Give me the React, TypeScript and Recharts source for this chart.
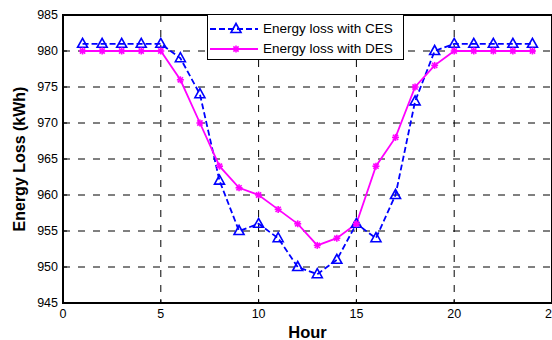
import React from 'react'
import {
  LineChart, Line, XAxis, YAxis, CartesianGrid, Legend, ReferenceArea,
} from 'recharts'

const hours = [1, 2, 3, 4, 5, 6, 7, 8, 9, 10, 11, 12, 13, 14, 15, 16, 17, 18, 19, 20, 21, 22, 23, 24]
const cesLoss = [981, 981, 981, 981, 981, 979, 974, 962, 955, 956, 954, 950, 949, 951, 956, 954, 960, 973, 980, 981, 981, 981, 981, 981]
const desLoss = [980, 980, 980, 980, 980, 976, 970, 964, 961, 960, 958, 956, 953, 954, 956, 964, 968, 975, 978, 980, 980, 980, 980, 980]
const xTicks = [0, 5, 10, 15, 20, 25]
const yTicks = [945, 950, 955, 960, 965, 970, 975, 980, 985]

const data = hours.map((h, i) => ({ hour: h, ces: cesLoss[i], des: desLoss[i] }))

const FONT = '"Liberation Sans", Arial, Helvetica, sans-serif'
const BLUE = '#0000ff'
const MAGENTA = '#ff00ff'

function Triangle({ cx, cy }: any) {
  if (cx == null || cy == null) return null
  return (
    <polygon
      points={`${cx},${cy - 5.5} ${cx - 5},${cy + 3.5} ${cx + 5},${cy + 3.5}`}
      fill="none" stroke={BLUE} strokeWidth={1.6}
    />
  )
}

function Star({ cx, cy }: any) {
  if (cx == null || cy == null) return null
  const r = 3.5, d = 2.6
  return (
    <g stroke={MAGENTA} strokeWidth={1.6}>
      <line x1={cx - r} y1={cy} x2={cx + r} y2={cy} />
      <line x1={cx} y1={cy - r} x2={cx} y2={cy + r} />
      <line x1={cx - d} y1={cy - d} x2={cx + d} y2={cy + d} />
      <line x1={cx - d} y1={cy + d} x2={cx + d} y2={cy - d} />
    </g>
  )
}

// x tick labels drawn centred on the tick, even at the right edge (where it gets clipped)
function XTick({ x, y, payload }: any) {
  return (
    <text x={x} y={y} dy="0.71em" textAnchor="middle" fontFamily={FONT} fontSize={12.5} fill="#000">
      {payload.value}
    </text>
  )
}

function renderLegend() {
  const rows = [
    { name: 'Energy loss with CES', color: BLUE, dash: '6 3', marker: 'tri' },
    { name: 'Energy loss with DES', color: MAGENTA, dash: undefined, marker: 'star' },
  ]
  return (
    <div
      style={{
        position: 'relative', width: 197, height: 46, boxSizing: 'border-box',
        border: '1px solid #000', background: '#fff', fontFamily: FONT,
      }}
    >
      {rows.map((r, i) => (
        <div key={r.name} style={{ position: 'absolute', left: 0, top: 4 + i * 20, height: 20, width: 195 }}>
          <svg width={52} height={20} style={{ position: 'absolute', left: 0, top: 0 }}>
            <line x1={2} y1={10} x2={50} y2={10} stroke={r.color} strokeWidth={1.8} strokeDasharray={r.dash} />
            {r.marker === 'tri' ? <Triangle cx={28} cy={10} /> : <Star cx={28} cy={10} />}
          </svg>
          <span
            style={{
              position: 'absolute', left: 55, top: 2, fontSize: 13.5, lineHeight: '16px',
              color: '#000', whiteSpace: 'nowrap',
            }}
          >
            {r.name}
          </span>
        </div>
      ))}
    </div>
  )
}

function YLabel(props: any) {
  const vb = props.viewBox || { x: 0, y: 15, width: 63, height: 288 }
  const cx = vb.x + 19.5
  const cy = vb.y + vb.height / 2
  return (
    <text
      x={cx} y={cy} transform={`rotate(-90, ${cx}, ${cy})`}
      textAnchor="middle" dominantBaseline="central"
      fontFamily={FONT} fontSize={16} fontWeight="bold" fill="#000"
    >
      Energy Loss (kWh)
    </text>
  )
}

function XLabel(props: any) {
  const vb = props.viewBox || { x: 63, y: 303, width: 489, height: 37 }
  return (
    <text
      x={vb.x + vb.width / 2} y={vb.y + 35} textAnchor="middle"
      fontFamily={FONT} fontSize={16.5} fontWeight="bold" fill="#000"
    >
      Hour
    </text>
  )
}

export default function App() {
  return (
    <div
      style={{
        position: 'absolute', left: 0, top: 0, width: 552, height: 340,
        overflow: 'hidden', background: '#fff',
      }}
    >
      <LineChart
        width={552} height={340} data={data}
        margin={{ top: 15, right: 0, bottom: 0, left: 0 }}
        style={{ fontFamily: FONT }}
      >
        <CartesianGrid stroke="#000" strokeDasharray="7 8" strokeWidth={1} />
        <XAxis
          dataKey="hour" type="number" domain={[0, 25]} ticks={xTicks}
          height={37} tickSize={-4} tickMargin={10} interval={0}
          axisLine={false} tickLine={{ stroke: '#000' }}
          tick={<XTick />}
          label={<XLabel />}
        />
        <YAxis
          type="number" domain={[945, 985]} ticks={yTicks}
          width={63} tickSize={-4} tickMargin={9}
          axisLine={false} tickLine={{ stroke: '#000' }}
          tick={{ fontSize: 12.5, fill: '#000' }}
          label={<YLabel />}
        />
        <ReferenceArea x1={0} x2={25} y1={945} y2={985} fill="none" stroke="#000" strokeWidth={2} fillOpacity={0} />
        <Line
          dataKey="ces" name="Energy loss with CES" stroke={BLUE} strokeWidth={1.8}
          strokeDasharray="6 3" dot={<Triangle />} activeDot={false}
          isAnimationActive={false}
        />
        <Line
          dataKey="des" name="Energy loss with DES" stroke={MAGENTA} strokeWidth={1.8}
          dot={<Star />} activeDot={false}
          isAnimationActive={false}
        />
        <Legend
          layout="vertical" align="center" verticalAlign="middle"
          content={renderLegend}
          wrapperStyle={{ position: 'absolute', left: 207, top: 14, width: 197, height: 46 }}
        />
      </LineChart>
    </div>
  )
}
